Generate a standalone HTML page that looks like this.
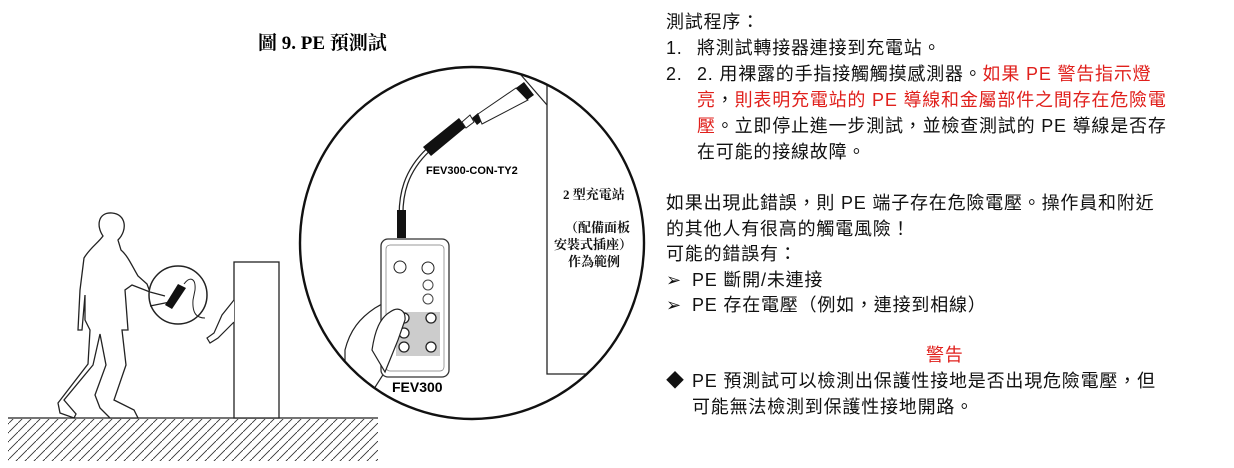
<!DOCTYPE html>
<html><head><meta charset="utf-8"><style>
html,body{margin:0;padding:0;background:#fff;}
body{width:1234px;height:468px;position:relative;overflow:hidden;font-family:"Liberation Sans","Noto Sans CJK TC",sans-serif;}
svg{position:absolute;left:0;top:0;}
.t{position:absolute;font-size:18px;line-height:26px;letter-spacing:0.8px;color:#111;white-space:nowrap;font-family:"Liberation Sans","Noto Sans CJK TC",sans-serif;}
.r{color:#e0201c;}
</style></head><body>
<svg width="650" height="468" viewBox="0 0 650 468">
<defs><pattern id="h" width="9" height="9" patternUnits="userSpaceOnUse"><path d="M-1 10 L10 -1" stroke="#333" stroke-width="0.9"/></pattern>
<clipPath id="ec"><ellipse cx="472" cy="243" rx="172" ry="176"/></clipPath></defs>
<text x="258" y="49" font-family="Liberation Serif,Noto Serif CJK SC,serif" font-weight="bold" font-size="19">圖 9. PE 預測試</text>
<rect x="8" y="419" width="370" height="42" fill="url(#h)"/>
<line x1="8" y1="418" x2="378" y2="418" stroke="#222" stroke-width="1.3"/>
<rect x="234" y="262" width="45" height="156" fill="#fff" stroke="#222" stroke-width="1.3"/>
<path d="M103 236 C96 226 98 212 112 213 C126 214 128 230 118 240 L121 250 C128 256 132 266 138 276 L147 284 L150 292 L132 285 L125 290 L128 330 L122 330 L126 365 L114 400 L134 410 L138 418 L110 418 L100 408 L95 395 L106 365 L100 334 L93 365 L64 400 L76 414 L74 418 L60 413 L58 403 L88 364 L90 330 L85 320 L85 295 L82 330 L78 330 L80 290 L84 258 C90 248 98 243 103 236 Z" fill="#fff" stroke="#222" stroke-width="1.3"/>
<path d="M234 300 L222 315 L214 333 L207 338 L210 343 L218 338 L234 322" fill="#fff" stroke="#222" stroke-width="1.2"/>
<circle cx="178" cy="295" r="29" fill="#fff" stroke="#222" stroke-width="1.5"/>
<path d="M150 292 L165 296 M150 306 L170 302" stroke="#222" stroke-width="1.2"/>
<path d="M165 305 L178 284 L186 288 L172 309 Z" fill="#111"/>
<path d="M184 284 C190 276 196 278 195 290 L193 300 C192 315 198 318 205 318" fill="none" stroke="#222" stroke-width="1"/>
<g clip-path="url(#ec)">
<path d="M547 83 L547 374 L650 374" fill="none" stroke="#222" stroke-width="1.3"/>
<line x1="521" y1="75" x2="547" y2="105" stroke="#222" stroke-width="1.2"/>
<path d="M345 380 L345 350 C350 330 360 318 375 308 L382 304 L382 328 C387 322 394 318 402 323 C408 330 402 338 396 345 L386 370 L372 392" fill="#fff" stroke="#222" stroke-width="1.2"/>
</g>
<ellipse cx="472" cy="243" rx="172" ry="176" fill="none" stroke="#111" stroke-width="2.4"/>
<path d="M401 238 L401 215 C401 195 405 172 428 150" fill="none" stroke="#222" stroke-width="5"/>
<path d="M401 238 L401 215 C401 195 405 172 428 150" fill="none" stroke="#fff" stroke-width="2.5"/>
<rect x="397" y="210" width="9" height="28" fill="#111"/>
<path d="M423 147 L459 118 L466 127 L431 156 Z" fill="#111"/>
<path d="M462 122 L470 115 L474 122 L466 128 Z" fill="#fff" stroke="#222"/>
<path d="M472 118 L478 113 L482 121 L477 125 Z" fill="#111"/>
<path d="M478 114 L516 88 L528 100 L482 124 Z" fill="#fff" stroke="#222"/>
<path d="M516 88 L524 82 L534 95 L527 100 Z" fill="#111"/>
<text x="426" y="174" font-family="Liberation Sans,sans-serif" font-weight="bold" font-size="11">FEV300-CON-TY2</text>
<g font-family="Liberation Serif,Noto Serif CJK SC,serif" font-weight="bold" font-size="13" fill="#111">
<text x="563" y="199">2 型充電站</text>
<text x="565" y="232">（配備面板</text>
<text x="554" y="249">安裝式插座）</text>
<text x="568" y="266">作為範例</text>
</g>
<rect x="381" y="239" width="68" height="138" rx="7" fill="#fff" stroke="#333" stroke-width="1.3"/>
<rect x="386" y="245" width="58" height="126" rx="4" fill="none" stroke="#777" stroke-width="0.7"/>
<rect x="396" y="312" width="44" height="44" fill="#ccc"/>
<circle cx="400" cy="267" r="6" fill="#fff" stroke="#222"/>
<circle cx="428" cy="268" r="6" fill="#fff" stroke="#222"/>
<circle cx="428" cy="285" r="5" fill="#fff" stroke="#444"/>
<circle cx="428" cy="299" r="5" fill="#fff" stroke="#444"/>
<g fill="#fff" stroke="#222" stroke-width="1.3">
<circle cx="404" cy="318" r="5"/><circle cx="431" cy="318" r="5"/>
<circle cx="404" cy="333" r="5"/>
<circle cx="404" cy="347" r="5"/><circle cx="431" cy="347" r="5"/>
</g>
<path d="M372 350 C375 330 380 318 390 312 C398 306 406 310 405 320 L398 340 L385 372 Z" fill="#fff" stroke="#222" stroke-width="1.2"/>
<text x="392" y="392" font-family="Liberation Sans,sans-serif" font-weight="bold" font-size="14">FEV300</text>
</svg>
<div class="t" style="left:666px;top:9px">測試程序：</div>
<div class="t" style="left:666px;top:35px">1.</div><div class="t" style="left:697px;top:35px">將測試轉接器連接到充電站。</div>
<div class="t" style="left:666px;top:61px">2.</div><div class="t" style="left:697px;top:61px">2. 用裸露的手指接觸觸摸感測器。<span class="r">如果 PE 警告指示燈</span></div>
<div class="t" style="left:697px;top:87px"><span class="r">亮</span>，<span class="r">則表明充電站的 PE 導線和金屬部件之間存在危險電</span></div>
<div class="t" style="left:697px;top:113px"><span class="r">壓</span>。立即停止進一步測試，並檢查測試的 PE 導線是否存</div>
<div class="t" style="left:697px;top:139px">在可能的接線故障。</div>
<div class="t" style="left:666px;top:190px">如果出現此錯誤，則 PE 端子存在危險電壓。操作員和附近</div>
<div class="t" style="left:666px;top:216px">的其他人有很高的觸電風險！</div>
<div class="t" style="left:666px;top:241px">可能的錯誤有：</div>
<div class="t" style="left:666px;top:267px">➢</div><div class="t" style="left:692px;top:267px">PE 斷開/未連接</div>
<div class="t" style="left:666px;top:292px">➢</div><div class="t" style="left:692px;top:292px">PE 存在電壓（例如，連接到相線）</div>
<div class="t r" style="left:926px;top:342px">警告</div>
<div class="t" style="left:666px;top:368px">◆</div><div class="t" style="left:692px;top:368px">PE 預測試可以檢測出保護性接地是否出現危險電壓，但</div>
<div class="t" style="left:692px;top:394px">可能無法檢測到保護性接地開路。</div>
</body></html>
